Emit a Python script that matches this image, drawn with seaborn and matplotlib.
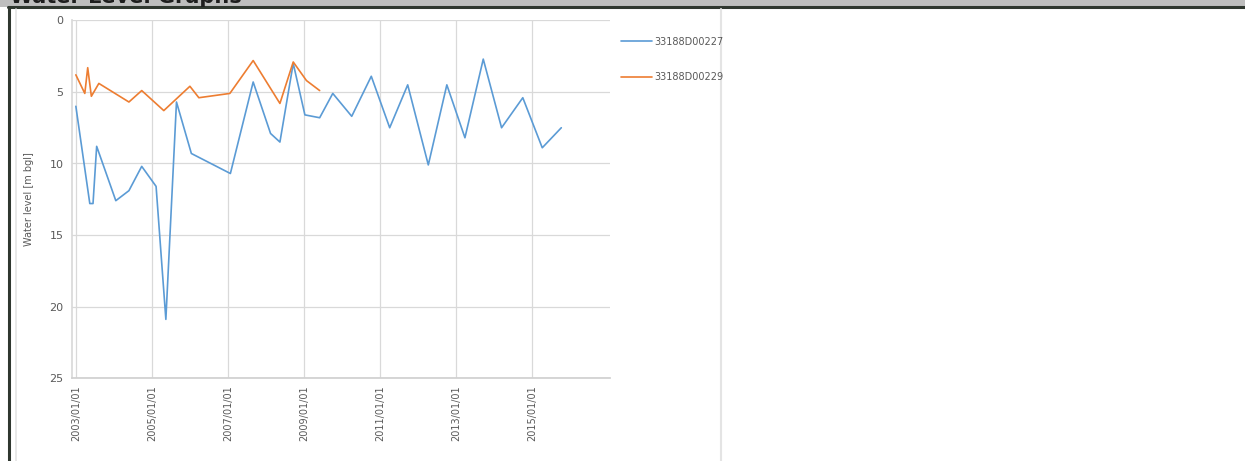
import matplotlib
matplotlib.use("Agg")
import matplotlib.pyplot as plt
import matplotlib.dates as mdates
from matplotlib.patches import Rectangle
from matplotlib.lines import Line2D
import pandas as pd
import seaborn as sns

# Station identifiers
stations = ["33188D00227", "33188D00229"]

# Water level readings (m below ground level)
dates_227 = [
    "2003-01-01", "2003-05-15", "2003-06-15", "2003-07-20", "2004-01-20",
    "2004-05-25", "2004-09-25", "2005-02-10", "2005-05-15", "2005-08-25",
    "2006-01-15", "2007-01-25", "2007-09-01", "2008-02-15", "2008-05-15",
    "2008-09-20", "2009-01-10", "2009-06-01", "2009-10-05", "2010-04-05",
    "2010-10-10", "2011-04-05", "2011-09-25", "2012-04-10", "2012-10-05",
    "2013-03-28", "2013-09-20", "2014-03-15", "2014-10-05", "2015-04-10",
    "2015-10-10",
]
levels_227 = [
    6.0, 12.8, 12.8, 8.8, 12.6,
    11.9, 10.2, 11.6, 20.9, 5.7,
    9.3, 10.7, 4.3, 7.9, 8.5,
    3.0, 6.6, 6.8, 5.1, 6.7,
    3.9, 7.5, 4.5, 10.1, 4.5,
    8.2, 2.7, 7.5, 5.4, 8.9,
    7.5,
]

dates_229 = [
    "2003-01-01", "2003-03-28", "2003-04-25", "2003-05-30", "2003-08-10",
    "2004-05-25", "2004-09-25", "2005-04-25", "2006-01-01", "2006-03-28",
    "2007-01-20", "2007-09-01", "2008-05-15", "2008-09-20", "2009-01-25",
    "2009-06-01",
]
levels_229 = [
    3.8, 5.1, 3.3, 5.3, 4.4,
    5.7, 4.9, 6.3, 4.6, 5.4,
    5.1, 2.8, 5.8, 2.9, 4.2,
    4.9,
]

tick_dates = ["2003-01-01", "2005-01-01", "2007-01-01", "2009-01-01",
              "2011-01-01", "2013-01-01", "2015-01-01"]
y_ticks = [0, 5, 10, 15, 20, 25]

colors = ["#5b9bd5", "#ed7d31"]

df = pd.concat([
    pd.DataFrame({"date": pd.to_datetime(dates_227), "level": levels_227, "station": stations[0]}),
    pd.DataFrame({"date": pd.to_datetime(dates_229), "level": levels_229, "station": stations[1]}),
], ignore_index=True)

sns.set_theme(style="white")
plt.rcParams["font.family"] = ["DejaVu Sans"]

W, H = 1245, 461
fig = plt.figure(figsize=(W / 100, H / 100), dpi=100)
fig.patch.set_facecolor("white")

# window chrome: header band, dark rules and inner chart panel
fig.patches.append(Rectangle((0, 1 - 7 / H), 1, 7 / H, transform=fig.transFigure,
                             facecolor="#bebebe", edgecolor="none", zorder=0))
fig.lines.append(Line2D([8 / W, 1], [1 - 7.5 / H, 1 - 7.5 / H], transform=fig.transFigure,
                        color="#2f372f", lw=2.2))
fig.lines.append(Line2D([8.5 / W, 8.5 / W], [0, 1 - 7 / H], transform=fig.transFigure,
                        color="#2f372f", lw=2.2))
fig.lines.append(Line2D([16 / W, 16 / W], [0, 1 - 9 / H], transform=fig.transFigure,
                        color="#e4e4e4", lw=1.2))
fig.lines.append(Line2D([721 / W, 721 / W], [0, 1 - 9 / H], transform=fig.transFigure,
                        color="#e4e4e4", lw=1.5))
fig.text(10 / W, 1 - 3 / H, "Water Level Graphs", fontsize=15, fontweight="bold",
         color="#1e1e1e", ha="left", va="baseline")

ax = fig.add_axes([72 / W, 1 - 378 / H, 538 / W, 357.5 / H])
sns.lineplot(data=df, x="date", y="level", hue="station", palette=colors,
             linewidth=1.2, ax=ax, legend=False, estimator=None, sort=False)

ax.set_ylim(25, 0)
ax.set_xlim(pd.Timestamp("2002-11-25"), pd.Timestamp("2017-01-20"))
ax.set_yticks(y_ticks)
ax.set_yticklabels([str(v) for v in y_ticks])
ax.set_xticks(pd.to_datetime(tick_dates))
ax.xaxis.set_major_formatter(mdates.DateFormatter("%Y/%m/%d"))
ax.tick_params(axis="x", labelrotation=90, labelsize=7, colors="#595959", length=0, pad=5)
ax.tick_params(axis="y", labelsize=8, colors="#595959", length=0, pad=6)
ax.grid(True, color="#d9d9d9", lw=0.9)
ax.set_axisbelow(True)
for side in ["top", "right"]:
    ax.spines[side].set_visible(False)
ax.spines["left"].set_color("#d9d9d9")
ax.spines["bottom"].set_color("#d0d0d0")
ax.set_xlabel("")
ax.set_ylabel("Water level [m bgl]", fontsize=7, color="#595959", labelpad=11)

# legend drawn beside the plot area
handles = [Line2D([], [], color=c, lw=1.2) for c in colors]
leg = fig.legend(handles, stations, loc="upper left", bbox_to_anchor=(612 / W, 1 - 28 / H),
                 frameon=False, fontsize=7, labelcolor="#595959", handlelength=3.2,
                 handletextpad=0.3, labelspacing=2.6)

fig.savefig("out.png", dpi=100, facecolor="white")
